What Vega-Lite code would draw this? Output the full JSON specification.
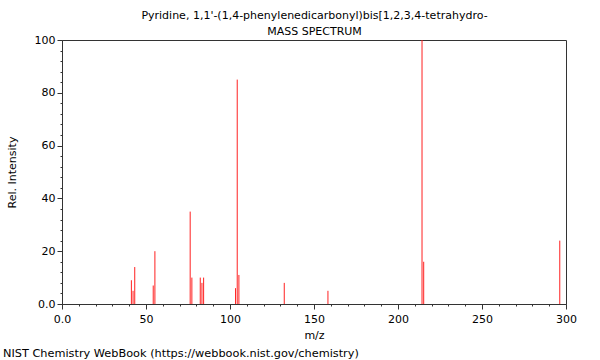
{
  "$schema": "https://vega.github.io/schema/vega-lite/v6.json",
  "autosize": "none",
  "width": 504,
  "height": 264,
  "padding": {"left": 62, "top": 40, "right": 34, "bottom": 56},
  "background": "white",
  "config": {
    "font": "DejaVu Sans",
    "view": {"stroke": "#333333", "strokeWidth": 1}
  },
  "title": {
    "text": "NIST Chemistry WebBook (https://webbook.nist.gov/chemistry)",
    "orient": "bottom",
    "anchor": "start",
    "frame": "group",
    "dx": -59,
    "offset": 8,
    "fontSize": 11.3,
    "fontWeight": "normal",
    "color": "#000000",
    "font": "DejaVu Sans"
  },
  "data": {
    "values": [
      {"mz": 41, "intensity": 9},
      {"mz": 42, "intensity": 5},
      {"mz": 43, "intensity": 14},
      {"mz": 54, "intensity": 7},
      {"mz": 55, "intensity": 20},
      {"mz": 76, "intensity": 35},
      {"mz": 77, "intensity": 10},
      {"mz": 82, "intensity": 10},
      {"mz": 83, "intensity": 8},
      {"mz": 84, "intensity": 10},
      {"mz": 103, "intensity": 6},
      {"mz": 104, "intensity": 85},
      {"mz": 105, "intensity": 11},
      {"mz": 132, "intensity": 8},
      {"mz": 158, "intensity": 5},
      {"mz": 214, "intensity": 100},
      {"mz": 215, "intensity": 16},
      {"mz": 296, "intensity": 24}
    ]
  },
  "layer": [
    {
      "mark": {"type": "point", "opacity": 0, "size": 0},
      "encoding": {
        "x": {
          "field": "mz",
          "type": "quantitative",
          "axis": {
            "orient": "top",
            "domain": false,
            "ticks": false,
            "labels": false,
            "grid": false,
            "title": ["Pyridine, 1,1'-(1,4-phenylenedicarbonyl)bis[1,2,3,4-tetrahydro-", "MASS SPECTRUM"],
            "titleFontSize": 11,
            "titleFontWeight": "normal",
            "titleColor": "#000000",
            "titleLineHeight": 16,
            "titlePadding": 4
          }
        }
      }
    },
    {
      "mark": {"type": "rule", "color": "#ff2020", "strokeWidth": 1, "xOffset": 0.5},
      "encoding": {
        "x": {
          "field": "mz",
          "type": "quantitative",
          "scale": {"domain": [0, 300], "nice": false, "zero": false},
          "axis": {
            "title": "m/z",
            "titleFontSize": 11,
            "titleFontWeight": "normal",
            "titleColor": "#000000",
            "titlePadding": 5,
            "values": [0, 10, 20, 30, 40, 50, 60, 70, 80, 90, 100, 110, 120, 130, 140, 150, 160, 170, 180, 190, 200, 210, 220, 230, 240, 250, 260, 270, 280, 290, 300],
            "labelExpr": "datum.value % 50 === 0 ? (datum.value === 0 ? '0.0' : format(datum.value, 'd')) : ''",
            "labelFontSize": 11,
            "labelColor": "#000000",
            "labelPadding": 4,
            "labelFlush": false,
            "labelOverlap": false,
            "tickSize": {"condition": {"test": "datum.value % 50 === 0", "value": 5}, "value": 2},
            "tickColor": "#333333",
            "domainColor": "#333333",
            "grid": false
          }
        },
        "y": {
          "field": "intensity",
          "type": "quantitative",
          "scale": {"domain": [0, 100], "nice": false},
          "axis": {
            "title": "Rel. Intensity",
            "titleFontSize": 11,
            "titleFontWeight": "normal",
            "titleColor": "#000000",
            "titlePadding": 17,
            "values": [0, 4, 8, 12, 16, 20, 24, 28, 32, 36, 40, 44, 48, 52, 56, 60, 64, 68, 72, 76, 80, 84, 88, 92, 96, 100],
            "labelExpr": "datum.value % 20 === 0 ? (datum.value === 0 ? '0.0' : format(datum.value, 'd')) : ''",
            "labelFontSize": 11,
            "labelColor": "#000000",
            "labelPadding": 2,
            "labelFlush": false,
            "labelOverlap": false,
            "tickSize": {"condition": {"test": "datum.value % 20 === 0", "value": 5}, "value": 2},
            "tickColor": "#333333",
            "domainColor": "#333333",
            "grid": false
          }
        },
        "y2": {"datum": 0}
      }
    }
  ],
  "resolve": {"axis": {"x": "independent"}}
}
